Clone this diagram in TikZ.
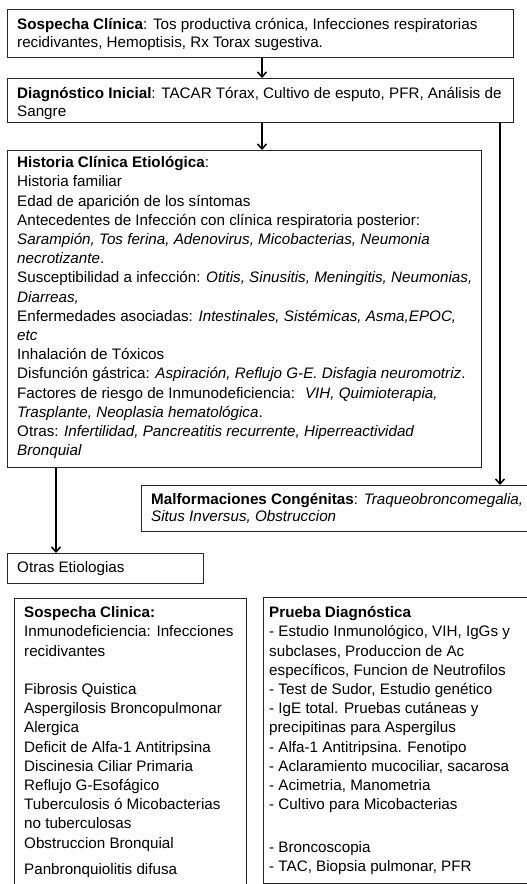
\documentclass[tikz,border=0pt]{standalone}
\usepackage{fontspec}
\setmainfont{Liberation Sans}
\usetikzlibrary{arrows.meta}

% fixed first-line height so every text block starts at a known baseline
\newcommand\firstln{\rule{0pt}{13.5pt}}

\begin{document}
\begin{tikzpicture}[x=1pt,y=-1pt,
  box/.style={draw=black!85, line width=1.2pt, rectangle, anchor=north west, inner sep=0pt},
  txt/.style={anchor=north west, inner sep=0pt, align=left,
              font=\fontsize{15.2}{#1}\selectfont},
  txt/.default=19.2,
  arr/.style={line width=1.8pt, -{Straight Barb[length=5pt,width=9pt,line width=1.5pt]}}
]
\clip (0,0) rectangle (527,884);
\fill[white] (0,0) rectangle (527,884);

% columns used by the connectors
\coordinate (colA) at (262,0);
\coordinate (colB) at (500,0);
\coordinate (colC) at (56,0);

% boxes
\node[box, minimum width=506pt, minimum height=48pt]  (b1)  at (7,9)   {};
\node[box, minimum width=506pt, minimum height=44pt]  (b2)  at (7,78)  {};
\node[box, minimum width=474pt, minimum height=317pt] (b3)  at (7,150) {};
\node[box, minimum width=394pt, minimum height=46pt]  (mal) at (141,485) {};
\node[box, minimum width=196pt, minimum height=30pt]  (ot)  at (7,553) {};
\node[box, minimum width=232pt, minimum height=300pt] (sc)  at (14,598) {};
\node[box, minimum width=272pt, minimum height=286pt] (pd)  at (263,597) {};

% texts
\node[txt=18] (t1) at (17,16)
  {\firstln\textbf{Sospecha Clínica}: Tos productiva crónica, Infecciones respiratorias\\
   recidivantes, Hemoptisis, Rx Torax sugestiva.};
\node[txt=18] (t2) at (17,85)
  {\firstln\textbf{Diagnóstico Inicial}: TACAR Tórax, Cultivo de esputo, PFR, Análisis de\\
   Sangre};
\node[txt] (t3) at (17,154)
  {\firstln\textbf{Historia Clínica Etiológica}:\\
   Historia familiar\\
   Edad de aparición de los síntomas\\
   Antecedentes de Infección con clínica respiratoria posterior:\\
   \textit{Sarampión, Tos ferina, Adenovirus, Micobacterias, Neumonia}\\
   \textit{necrotizante}.\\
   Susceptibilidad a infección: \textit{Otitis, Sinusitis, Meningitis, Neumonias,}\\
   \textit{Diarreas,}\\
   Enfermedades asociadas: \textit{Intestinales, Sistémicas, Asma,EPOC,}\\
   \textit{etc}\\
   Inhalación de Tóxicos\\
   Disfunción gástrica: \textit{Aspiración, Reflujo G-E. Disfagia neuromotriz}.\\
   Factores de riesgo de Inmunodeficiencia: \ \textit{VIH, Quimioterapia,}\\
   \textit{Trasplante, Neoplasia hematológica}.\\
   Otras: \textit{Infertilidad, Pancreatitis recurrente, Hiperreactividad}\\
   \textit{Bronquial}};
\node[txt=17] (t4) at (151,491)
  {\firstln\textbf{Malformaciones Congénitas}: \textit{Traqueobroncomegalia,}\\
   \textit{Situs Inversus, Obstruccion}};
\node[txt] (t5) at (17,559) {\firstln Otras Etiologias};
\node[txt] (t6) at (24,604)
  {\firstln\textbf{Sospecha Clinica:}\\
   Inmunodeficiencia: Infecciones\\
   recidivantes\\
   \\
   Fibrosis Quistica\\
   Aspergilosis Broncopulmonar\\
   Alergica\\
   Deficit de Alfa-1 Antitripsina\\
   Discinesia Ciliar Primaria\\
   Reflujo G-Esofágico\\
   Tuberculosis ó Micobacterias\\
   no tuberculosas\\
   Obstruccion Bronquial\\[7pt]
   Panbronquiolitis difusa};
\node[txt] (t7) at (269,604)
  {\firstln\textbf{Prueba Diagnóstica}\\
   - Estudio Inmunológico, VIH, IgGs y\\
   subclases, Produccion de Ac\\
   específicos, Funcion de Neutrofilos\\
   - Test de Sudor, Estudio genético\\
   - IgE total. Pruebas cutáneas y\\
   precipitinas para Aspergilus\\
   - Alfa-1 Antitripsina. Fenotipo\\
   - Aclaramiento mucociliar, sacarosa\\
   - Acimetria, Manometria\\
   - Cultivo para Micobacterias\\
   \\[4pt]
   - Broncoscopia\\
   - TAC, Biopsia pulmonar, PFR};

% connectors
\draw[arr] (b1.south -| colA) -- (b2.north -| colA);
\draw[arr] (b2.south -| colA) -- (b3.north -| colA);
\draw[arr] (b2.south -| colB) -- (mal.north -| colB);
\draw[arr] (b3.south -| colC) -- (ot.north -| colC);
\end{tikzpicture}
\end{document}
